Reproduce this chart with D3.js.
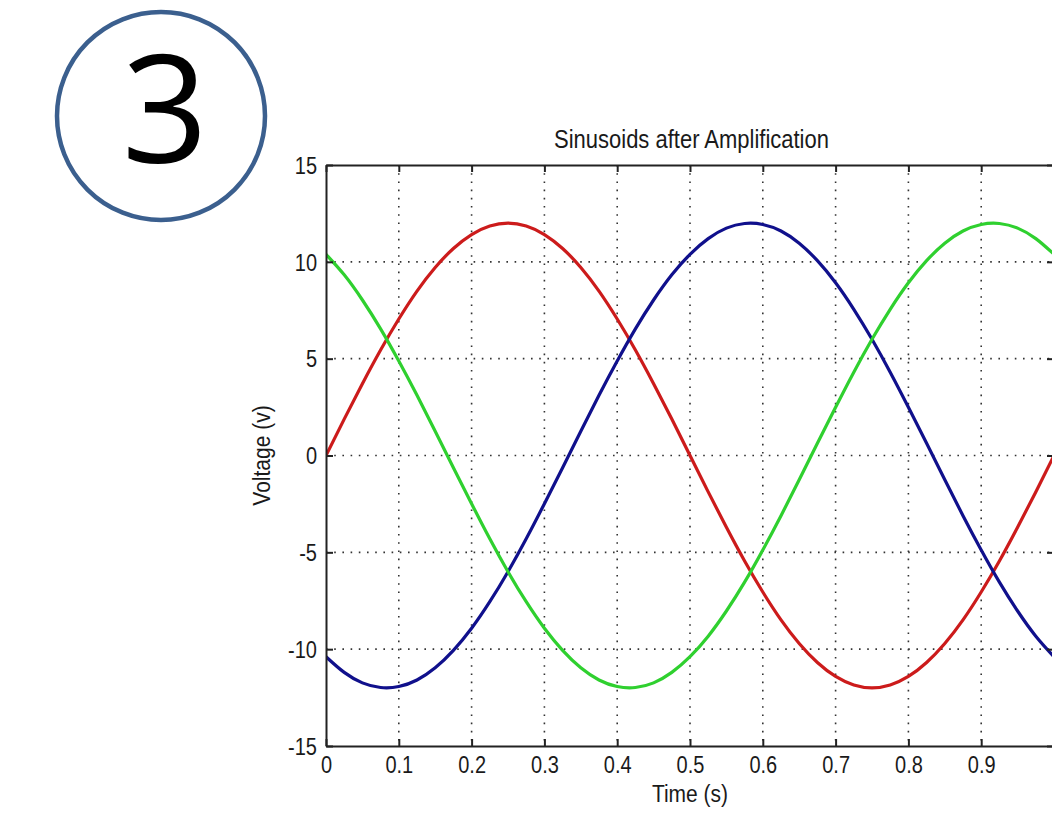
<!DOCTYPE html>
<html>
<head>
<meta charset="utf-8">
<script src="https://cdn.jsdelivr.net/npm/d3@7"></script>
<style>
body{margin:0;background:#fff}
svg{display:block}
text{font-family:"Liberation Sans",Arial,sans-serif;fill:#1a1a1a}
</style>
</head>
<body>
<svg id="mainsvg"></svg>
<script>
const times = [0, 0.025, 0.05, 0.075, 0.1, 0.125, 0.15, 0.175, 0.2, 0.225,
    0.25, 0.275, 0.3, 0.325, 0.35, 0.375, 0.4, 0.425, 0.45, 0.475,
    0.5, 0.525, 0.55, 0.575, 0.6, 0.625, 0.65, 0.675, 0.7, 0.725,
    0.75, 0.775, 0.8, 0.825, 0.85, 0.875, 0.9, 0.925, 0.95, 0.975, 1];
const redValues = [0, 1.88, 3.71, 5.45, 7.05, 8.49, 9.71, 10.69, 11.41, 11.85,
    12.0, 11.85, 11.41, 10.69, 9.71, 8.49, 7.05, 5.45, 3.71, 1.88,
    0, -1.88, -3.71, -5.45, -7.05, -8.49, -9.71, -10.69, -11.41, -11.85,
    -12.0, -11.85, -11.41, -10.69, -9.71, -8.49, -7.05, -5.45, -3.71, -1.88, 0];
const blueValues = [-10.39, -11.2, -11.74, -11.98, -11.93, -11.59, -10.96, -10.06, -8.92, -7.55,
    -6.0, -4.3, -2.49, -0.63, 1.25, 3.11, 4.88, 6.54, 8.03, 9.33,
    10.39, 11.2, 11.74, 11.98, 11.93, 11.59, 10.96, 10.06, 8.92, 7.55,
    6.0, 4.3, 2.49, 0.63, -1.25, -3.11, -4.88, -6.54, -8.03, -9.33, -10.39];
const greenValues = [10.39, 9.33, 8.03, 6.54, 4.88, 3.11, 1.25, -0.63, -2.49, -4.3,
    -6.0, -7.55, -8.92, -10.06, -10.96, -11.59, -11.93, -11.98, -11.74, -11.2,
    -10.39, -9.33, -8.03, -6.54, -4.88, -3.11, -1.25, 0.63, 2.49, 4.3,
    6.0, 7.55, 8.92, 10.06, 10.96, 11.59, 11.93, 11.98, 11.74, 11.2, 10.39];
const xTicks = [0, 0.1, 0.2, 0.3, 0.4, 0.5, 0.6, 0.7, 0.8, 0.9, 1];
const xTickLabels = ["0", "0.1", "0.2", "0.3", "0.4", "0.5", "0.6", "0.7", "0.8", "0.9", ""];
const yTicks = [-15, -10, -5, 0, 5, 10, 15];
const yTickLabels = ["-15", "-10", "-5", "0", "5", "10", "15"];

let mainsvg = d3.select("#mainsvg"),
    svgWidth = 1052,
    svgHeight = 822,
    plot = {left: 326, right: 1054, top: 165, bottom: 746},
    stretch = 1.15,
    scaleX = d3.scaleLinear().domain([0, 1]).range([plot.left, plot.right]),
    scaleY = d3.scaleLinear().domain([-15, 15]).range([plot.bottom, plot.top]);

mainsvg.attr("width", svgWidth).attr("height", svgHeight);
mainsvg.append("rect").attr("width", svgWidth).attr("height", svgHeight).attr("fill", "#fff");

// step badge
mainsvg.append("circle")
    .attr("cx", 161).attr("cy", 116).attr("r", 104)
    .attr("fill", "none").attr("stroke", "#3b5f8e").attr("stroke-width", 4.5);
mainsvg.append("text")
    .attr("x", 165).attr("y", 163)
    .attr("text-anchor", "middle")
    .style("font-family", "'Open Sans','Noto Sans',sans-serif")
    .style("font-size", "151px")
    .style("fill", "#000")
    .text("3");

// dotted grid
let grid = mainsvg.append("g").attr("class", "grid")
    .attr("stroke", "#333").attr("stroke-width", 1.6).attr("stroke-dasharray", "1.6,6.6");
grid.selectAll("line.gx").data(xTicks.slice(1)).enter().append("line")
    .attr("x1", d => scaleX(d)).attr("x2", d => scaleX(d))
    .attr("y1", plot.top).attr("y2", plot.bottom);
grid.selectAll("line.gy").data(yTicks.slice(1, -1)).enter().append("line")
    .attr("x1", plot.left).attr("x2", plot.right)
    .attr("y1", d => scaleY(d)).attr("y2", d => scaleY(d));

// curves
mainsvg.append("clipPath").attr("id", "clip").append("rect")
    .attr("x", plot.left).attr("y", plot.top)
    .attr("width", plot.right - plot.left).attr("height", plot.bottom - plot.top);
let series = [
    {values: redValues, color: "#cc1b1b"},
    {values: blueValues, color: "#10108c"},
    {values: greenValues, color: "#2fd02f"}
];
let line = d3.line()
    .x(d => scaleX(d[0]))
    .y(d => scaleY(d[1]))
    .curve(d3.curveNatural);
mainsvg.append("g").attr("clip-path", "url(#clip)")
    .selectAll("path").data(series).enter().append("path")
    .attr("d", s => line(times.map((t, i) => [t, s.values[i]])))
    .attr("fill", "none")
    .attr("stroke", s => s.color)
    .attr("stroke-width", 3.2)
    .attr("stroke-linejoin", "round");

// axes, ticks pointing inward like matlab
function styleAxis(g) {
    g.select(".domain").attr("stroke", "#222").attr("stroke-width", 2);
    g.selectAll(".tick line").attr("stroke", "#222").attr("stroke-width", 2);
    g.selectAll("text").style("font-size", "20px").attr("fill", "#1a1a1a");
}
let xAxis = mainsvg.append("g")
    .attr("transform", `translate(0,${plot.bottom})`)
    .call(d3.axisBottom(scaleX).tickValues(xTicks).tickSizeInner(-7).tickSizeOuter(0)
        .tickFormat((d, i) => xTickLabels[i]))
    .call(styleAxis);
xAxis.selectAll("text").attr("y", null).attr("dy", null)
    .attr("transform", `translate(0,27) scale(1,${stretch})`);

mainsvg.append("g")
    .attr("transform", `translate(0,${plot.top})`)
    .call(d3.axisTop(scaleX).tickValues(xTicks).tickSizeInner(-7).tickSizeOuter(0).tickFormat(""))
    .call(styleAxis);

let yAxis = mainsvg.append("g")
    .attr("transform", `translate(${plot.left},0)`)
    .call(d3.axisLeft(scaleY).tickValues(yTicks).tickSizeInner(-7).tickSizeOuter(0)
        .tickFormat((d, i) => yTickLabels[i]))
    .call(styleAxis);
yAxis.selectAll("text").attr("x", null).attr("dy", null)
    .attr("transform", `translate(-9,8.2) scale(1,${stretch})`);

mainsvg.append("g")
    .attr("transform", `translate(${plot.right},0)`)
    .call(d3.axisRight(scaleY).tickValues(yTicks).tickSizeInner(-7).tickSizeOuter(0).tickFormat(""))
    .call(styleAxis);

// titles
mainsvg.append("text")
    .attr("transform", `translate(691.5,148) scale(1,${stretch})`)
    .attr("text-anchor", "middle").style("font-size", "22px")
    .text("Sinusoids after Amplification");
mainsvg.append("text")
    .attr("transform", `translate(690,802) scale(1,${stretch})`)
    .attr("text-anchor", "middle").style("font-size", "21px")
    .text("Time (s)");
mainsvg.append("text")
    .attr("transform", `translate(270,455.5) rotate(-90) scale(1,${stretch})`)
    .attr("text-anchor", "middle").style("font-size", "21px")
    .text("Voltage (v)");
</script>
</body>
</html>
